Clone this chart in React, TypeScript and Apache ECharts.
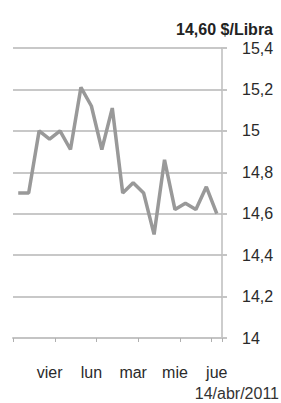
import React, { useEffect, useRef } from "react";
import * as echarts from "echarts";

const categories = ["", "", "", "vier", "", "", "", "lun", "", "", "", "mar", "", "", "", "mie", "", "", "", "jue"];
const prices = [14.7, 14.7, 15.0, 14.96, 15.0, 14.91, 15.21, 15.12, 14.91, 15.11, 14.7, 14.75, 14.7, 14.5, 14.86, 14.62, 14.65, 14.62, 14.73, 14.6];
const titleText = "14,60 $/Libra";
const dateText = "14/abr/2011";
const yMin = 14;
const yMax = 15.4;
const yStep = 0.2;

const FONT = "'Liberation Sans', Arial, sans-serif";

export default function App() {
  const ref = useRef<HTMLDivElement>(null);
  useEffect(() => {
    if (!ref.current) return;
    const chart = echarts.init(ref.current, null, { renderer: "svg" });
    chart.setOption({
      animation: false,
      backgroundColor: "#ffffff",
      title: {
        text: titleText,
        right: 3,
        top: 16,
        textStyle: { fontFamily: FONT, fontSize: 16, fontWeight: "bold", color: "#222222" },
      },
      graphic: [
        {
          type: "text",
          right: 2,
          top: 385,
          style: { text: dateText, font: `16px ${FONT}`, fill: "#333333" },
        },
      ],
      grid: { left: 13, right: 59, top: 48, bottom: 65 },
      xAxis: {
        type: "category",
        data: categories,
        boundaryGap: true,
        axisLine: { show: true, lineStyle: { color: "#c4c4c4", width: 2 } },
        axisTick: { show: true, interval: 3, length: 4, lineStyle: { color: "#b0b0b0" } },
        axisLabel: { interval: 0, margin: 26, fontFamily: FONT, fontSize: 16, color: "#2a2a2a" },
        splitLine: { show: false },
      },
      yAxis: {
        type: "value",
        position: "right",
        min: yMin,
        max: yMax,
        interval: yStep,
        axisLine: { show: true, lineStyle: { color: "#bdbdbd", width: 1.5 } },
        axisTick: { show: true, length: 5, lineStyle: { color: "#c4c4c4", width: 2 } },
        axisLabel: {
          margin: 20,
          fontFamily: FONT,
          fontSize: 16,
          color: "#2a2a2a",
          formatter: (v: number) => String(Math.round(v * 10) / 10).replace(".", ","),
        },
        splitLine: { show: true, lineStyle: { color: "#c8c8c8", width: 2 } },
      },
      series: [
        {
          type: "line",
          data: prices,
          symbol: "none",
          lineStyle: { color: "#999999", width: 3.5 },
        },
      ],
    });
    return () => chart.dispose();
  }, []);
  return <div ref={ref} style={{ width: 281, height: 403, position: "absolute", left: 0, top: 0 }} />;
}
